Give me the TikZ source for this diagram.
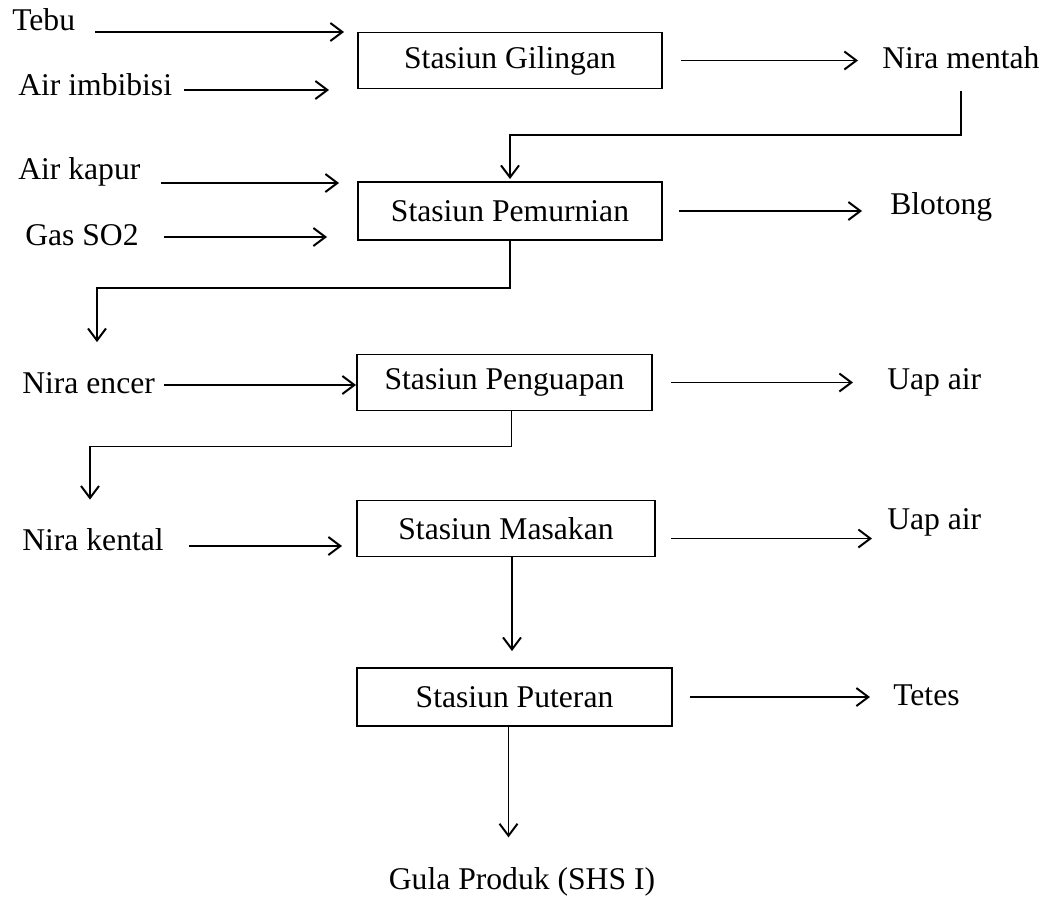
\documentclass[tikz,border=0pt]{standalone}
\usepackage{fontspec}
\setmainfont{Liberation Serif}
\usetikzlibrary{arrows.meta, positioning, calc}

\begin{document}
\begin{tikzpicture}[
  x=0.25mm, y=-0.25mm,
  stbox/.style={draw, line width=1.4pt, minimum height=14mm, inner sep=0pt, font=\fontsize{22.5}{27}\selectfont},
  lbl/.style={anchor=west, inner sep=0pt, font=\fontsize{22.5}{27}\selectfont},
  flow/.style={line width=1.4pt, -{Straight Barb[length=3mm, width=4.5mm, line width=1.4pt]}}
]
  \useasboundingbox (0,0) rectangle (1055,903);

  \node[stbox, minimum width=76mm] (gil) at (510, 60.5) {Stasiun Gilingan};
  \node[stbox, minimum width=76mm, minimum height=14.5mm] (pem) at (510, 211) {Stasiun Pemurnian};
  \node[stbox, minimum width=73.75mm] (pgu) at (504.5, 382.5) {Stasiun Penguapan};
  \node[stbox, minimum width=74.5mm] (msk) at (506, 528.5) {Stasiun Masakan};
  \node[stbox, minimum width=78.75mm, minimum height=14.5mm] (ptr) at (514.5, 697) {Stasiun Puteran};

  \node[lbl] (tebu) at (12, 20) {Tebu};
  \node[lbl] (imb) at (18, 85) {Air imbibisi};
  \node[lbl] (kapur) at (18, 172) {Air kapur};
  \node[lbl] (so2) at (25, 235) {Gas SO2};
  \node[lbl] (encer) at (22, 383) {Nira encer};
  \node[lbl] (kental) at (22, 540) {Nira kental};

  \node[lbl] (mentah) at (882, 58) {Nira mentah};
  \node[lbl] (blotong) at (890, 207) {Blotong};
  \node[lbl] (uap1) at (887, 382) {Uap air};
  \node[lbl] (uap2) at (887, 522) {Uap air};
  \node[lbl] (tetes) at (893, 695) {Tetes};
  \node[lbl, anchor=center] (gula) at (522, 882) {Gula Produk (SHS I)};

  \draw[flow, shorten >=3.25mm] ([xshift=5mm, yshift=-3mm]tebu.east) -- ([yshift=-3mm]tebu.east -| gil.west);
  \draw[flow, shorten >=7mm] ([xshift=3mm, yshift=-1.25mm]imb.east) -- ([yshift=-1.25mm]imb.east -| gil.west);
  \draw[flow, shorten >=4.5mm] ([xshift=5mm, yshift=-2.75mm]kapur.east) -- ([yshift=-2.75mm]kapur.east -| pem.west);
  \draw[flow, shorten >=7.5mm] ([xshift=6.25mm, yshift=-0.5mm]so2.east) -- ([yshift=-0.5mm]so2.east -| pem.west);
  \draw[flow] ([xshift=2.25mm, yshift=-0.5mm]encer.east) -- ([yshift=-0.5mm]encer.east -| pgu.west);
  \draw[flow, shorten >=3.5mm] ([xshift=6.25mm, yshift=-1.5mm]kental.east) -- ([yshift=-1.5mm]kental.east -| msk.west);

  \draw[flow, shorten <=4.5mm, shorten >=6mm] (gil.east) -- (gil.east -| mentah.west);
  \draw[flow, shorten <=4mm, shorten >=7mm] (pem.east) -- (pem.east -| blotong.west);
  \draw[flow, shorten <=4.5mm, shorten >=8.5mm] (pgu.east) -- (pgu.east -| uap1.west);
  \draw[flow, shorten <=3.75mm, shorten >=3.75mm] ([yshift=-2.5mm]msk.east) -- ([yshift=-2.5mm]msk.east -| uap2.west);
  \draw[flow, shorten <=4.25mm, shorten >=5.75mm] (ptr.east) -- (ptr.east -| tetes.west);

  \draw[flow, shorten >=0.5mm] ([yshift=-5.5mm]mentah.south) -- ++(0,44) -| (pem.north);
  \draw[flow] (pem.south) -- ++(0,47) -| ([xshift=18.75mm, yshift=7.5mm]encer.north west);
  \draw[flow] ([xshift=1.75mm]pgu.south) -- ++(0,35) -| ([xshift=17mm, yshift=7.25mm]kental.north west);
  \draw[flow, shorten >=4mm] ([xshift=1.5mm]msk.south) -- ([xshift=1.5mm]msk.south |- ptr.north);
  \draw[flow, shorten >=7.5mm] ([xshift=-1.5mm]ptr.south) -- ([xshift=-1.5mm]ptr.south |- gula.north);
\end{tikzpicture}
\end{document}
